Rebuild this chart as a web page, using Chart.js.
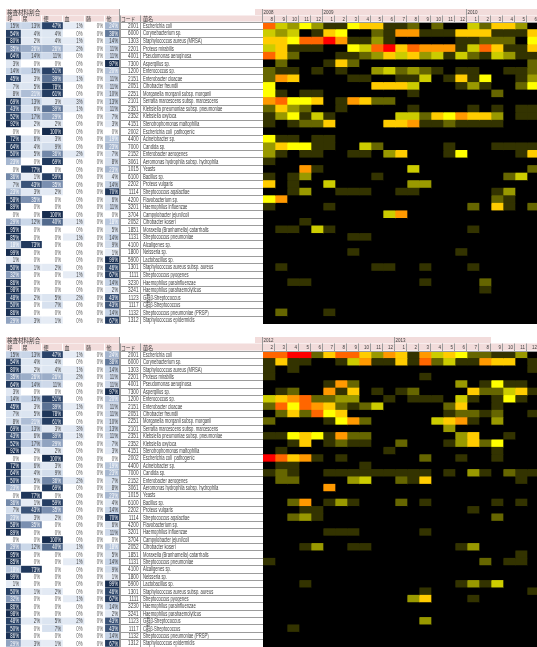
<!DOCTYPE html>
<html>
<head>
<meta charset="utf-8">
<script src="https://cdn.jsdelivr.net/npm/chart.js@4.4.0/dist/chart.umd.min.js"></script>
<style>
  html, body { margin: 0; padding: 0; background: #fff; overflow: hidden; }
  #page { position: relative; width: 537px; height: 647px; overflow: hidden; background: #fff; }
  canvas { position: absolute; }
</style>
</head>
<body>
<div id="page">
  <canvas id="tableTop" width="120" height="315" style="left:0;top:9px"></canvas>
  <canvas id="mapTop" width="419" height="315" style="left:120px;top:9px"></canvas>
  <canvas id="tableBottom" width="120" height="310" style="left:0;top:337px"></canvas>
  <canvas id="mapBottom" width="419" height="310" style="left:120px;top:337px"></canvas>
</div>
<script>
// organism list (same in both panels)
const codes = ['2001','6000','1303','2201','4001','7300','1200','2151','2051','2251',
  '2101','2351','2352','4151','2002','4400','7000','2152','3061','1015',
  '6100','2202','1114','4200','3201','3704','2052','1851','1131','4100',
  '1800','5900','1301','1111','3230','3241','1123','1117','1132','1312'];
const names = ['Escherichia coli','Corynebacterium sp.','Staphylococcus aureus (MRSA)','Proteus mirabilis',
  'Pseudomonas aeruginosa','Aspergillus sp.','Enterococcus sp.','Enterobacter cloacae','Citrobacter freundii',
  'Morganella morganii subsp. morganii','Serratia marcescens subsp. marcescens','Klebsiella pneumoniae subsp. pneumoniae',
  'Klebsiella oxytoca','Stenotrophomonas maltophilia','Escherichia coli  pathogenic','Acinetobacter sp.','Candida sp.',
  'Enterobacter aerogenes','Aeromonas hydrophila subsp. hydrophila','Yeasts','Bacillus sp.','Proteus vulgaris',
  'Streptococcus agalactiae','Flavobacterium sp.','Haemophilus influenzae','Campylobacter jejuni/coli',
  'Citrobacter koseri','Moraxella (Branhamella) catarrhalis','Streptococcus pneumoniae','Alcaligenes sp.',
  'Neisseria sp.','Lactobacillus sp.','Staphylococcus aureus subsp. aureus','Streptococcus pyogenes',
  'Haemophilus parainfluenzae','Haemophilus parahaemolyticus','G群β-Streptococcus','C群β-Streptococcus',
  'Streptococcus pneumoniae (PRSP)','Staphylococcus epidermidis'];

// 検査材料割合 (%)
const materials = ['呼','尿','便','血','髄','他'];
const resp  = [15,54,80,35,64,3,14,45,7,8, 69,43,52,92,0,72,64,50,23,0, 36,7,23,58,89,0,29,95,85,18, 99,1,50,32,86,98,48,50,86,29];
const urine = [13,4,2,26,14,0,15,3,5,21, 13,6,17,2,0,6,4,5,0,77, 1,43,3,35,0,0,12,0,0,73, 0,0,1,0,0,0,2,0,0,3];
const stool = [47,4,4,26,11,0,51,39,78,61, 3,39,29,2,100,3,9,36,69,0, 59,35,2,0,0,100,40,0,0,0, 0,0,2,0,0,0,5,7,0,1];
const blood = [1,0,1,2,0,0,0,1,0,0, 3,1,0,0,0,0,0,2,0,0, 0,0,0,0,0,0,1,0,1,0, 0,0,0,1,0,0,2,0,0,0];
const csf   = [0,0,0,0,0,0,0,0,0,0, 0,0,0,0,0,0,0,0,0,0, 0,0,0,0,0,0,0,0,0,0, 0,0,0,0,0,0,0,0,0,0];
const other = [24,38,14,11,11,97,20,11,11,10, 13,11,7,3,0,19,23,7,8,23, 4,14,70,6,11,0,18,5,14,9, 1,99,46,67,14,2,43,43,14,67];

// monthly detection level per organism (0 = none ... 9 = most)
const topYears = ['2008','2009','2010'];
const topYearStart = [0, 5, 17];
const topMonths = ['8','9','10','11','12','1','2','3','4','5','6','7','8','9','10','11','12','1','2','3','4','5','6'];
const topLevels = [
  '84353115661120200426630','43401650021771116661116','66588971131000001122205','46111005489687771486116',
  '86200011236463414214311','02000162000000000000002','21101010034232101100112','27600001100114016150013',
  '50000000066640001310025','51011000000010000002000','78556017622000000000000','26320010000010000101011',
  '13514100000442657663011','10122600006671121111000','00000000000000000000000','51101100000000000000000',
  '36551100420000010001111','31011001103600015000016','10000000000000000000000','00071000000040000000002',
  '10130000010000000000240','60100400000033000000000','00130011100110000001300','57000000000000000002100',
  '10000100000000000206102','00000000004700000000000','00010000000000000000000','01104100000000000100000',
  '00000001100000000000000','00000000000000000000000','00000001000000001000000','00000000000000000000000',
  '01000000011001000100000','00000000000000000000000','00110000000001000020000','00000000000000000010000',
  '00000000000000000000000','00000000000000000000000','02000100000000000000000','00000000000000000000000'];

const bottomYears = ['2012','2013'];
const bottomYearStart = [0, 11];
const bottomMonths = ['2','3','4','5','6','7','8','9','10','11','12','1','2','3','4','5','6','7','8','9','10','11','12'];
const bottomLevels = [
  '88992688637617465221130','16110014711618241176601','10100000000000000000001','10000000000001000000000',
  '00000172000000003015110','01200716010120000622461','46782233001011104101510','28587621240000026001000',
  '02628560000000012212001','20000157200000467103000','00000000000000030000000','11565172200000003600100',
  '00160121100200013625000','01000000001000000001000','98671010000002001001000','01100000100000000000000',
  '12100111111111010310211','02200003400216000000010','00000700000000000000000','00000000000000000000000',
  '00270131000201000001010','00011000000000000100000','00231000000000000002000','00000000000000000000000',
  '00000111000001000000000','00000000000000000000000','00013001100000001300000','00000000000000000000010',
  '10000000000000000020110','00000000000000000000000','00000000000000000000000','00010000000000001314000',
  '00000000000001000000001','00000000000036000100000','00000000000000000000000','00000000000000000000000',
  '00000000000003000000000','00100000000000000000000','00000000000000000000000','00000000000000000000000'];

const palette = ['#000000','#333300','#666600','#999900','#cccc00','#ffff00','#ffcc00','#ff9900','#ff6600','#ff0000'];
const pink = '#f2dcdb';
const lineGray = '#9c9c9c';
const colWidths = [15, 21, 21, 21.5, 20.5, 15];
const latin = '"Liberation Sans", Arial, "Noto Sans CJK JP", sans-serif';
const cjk = '"Noto Sans CJK JP", sans-serif';

function mix(a, b, t) {
  return a.map((v, i) => Math.round(v + (b[i] - v) * t));
}

// blue shading of the material share table
function blueShade(v) {
  if (v === 0) return '#ffffff';
  const stops = [[0, [232, 238, 246]], [15, [196, 210, 230]], [35, [122, 143, 176]], [45, [42, 68, 106]], [100, [22, 44, 78]]];
  for (let i = 1; i < stops.length; i++) {
    if (v <= stops[i][0]) {
      const t = (v - stops[i - 1][0]) / (stops[i][0] - stops[i - 1][0]);
      const c = mix(stops[i - 1][1], stops[i][1], t);
      return `rgb(${c[0]},${c[1]},${c[2]})`;
    }
  }
  return 'rgb(22,44,78)';
}

function drawText(ctx, s, x, y, align, sx, font, color) {
  ctx.save();
  ctx.translate(x, y);
  ctx.scale(sx, 1);
  ctx.font = font;
  ctx.fillStyle = color;
  ctx.textAlign = align;
  ctx.textBaseline = 'middle';
  ctx.fillText(s, 0, 0);
  ctx.restore();
}

function hLine(ctx, x0, x1, y, color) {
  ctx.strokeStyle = color;
  ctx.lineWidth = 1;
  ctx.beginPath();
  ctx.moveTo(x0, Math.round(y) + 0.5);
  ctx.lineTo(x1, Math.round(y) + 0.5);
  ctx.stroke();
}

function vLine(ctx, x, y0, y1, color) {
  ctx.strokeStyle = color;
  ctx.lineWidth = 1;
  ctx.beginPath();
  ctx.moveTo(Math.round(x) + 0.5, y0);
  ctx.lineTo(Math.round(x) + 0.5, y1);
  ctx.stroke();
}

// header + percentages for the left table
const tablePlugin = {
  id: 'tableFrame',
  afterDraw(chart) {
    const { ctx, chartArea: a, scales: { x, y } } = chart;
    const mid = 6.5;
    ctx.fillStyle = pink;
    ctx.fillRect(a.left, 0, a.right - a.left - 1, mid - 0.5);
    ctx.fillRect(a.left, mid, a.right - a.left - 1, a.top - mid - 0.5);
    drawText(ctx, '検査材料割合', a.left + 1, mid / 2 + 0.3, 'left', 0.85, '6.5px ' + cjk, '#404040');

    let left = 0;
    chart.data.datasets.forEach((ds, c) => {
      const x0 = x.getPixelForValue(left);
      const x1 = x.getPixelForValue(left + colWidths[c]);
      drawText(ctx, materials[c], x0 + 1.5, (mid + a.top) / 2, 'left', 0.85, '6px ' + cjk, '#404040');
      vLine(ctx, x1 - 1, mid, a.top, '#ffffff');
      ds.values.forEach((v, r) => {
        const py = y.getPixelForValue(r);
        const color = v >= 18 ? '#ffffff' : (v === 0 ? '#595959' : '#404040');
        drawText(ctx, v + '%', x1 - 2, py + 0.4, 'right', 0.62, '7px ' + latin, color);
      });
      left += colWidths[c];
    });
    vLine(ctx, a.right - 1, 0, a.bottom, lineGray);
  }
};

// black background, header rows and code / name columns for the heat map
const mapPlugin = {
  id: 'mapFrame',
  beforeDatasetsDraw(chart) {
    const { ctx, chartArea: a } = chart;
    ctx.fillStyle = '#000';
    ctx.fillRect(a.left, a.top, a.right - a.left, a.bottom - a.top);
  },
  afterDraw(chart, args, opts) {
    const { ctx, chartArea: a, scales: { x, y } } = chart;
    const mid = 6.5;
    const months = chart.data.datasets.map(d => d.label);

    // year row
    ctx.fillStyle = pink;
    const yearEnd = x.getPixelForValue(opts.yearCols);
    ctx.fillRect(a.left - 8, 0, yearEnd - a.left + 8, mid - 0.5);
    opts.years.forEach((yr, i) => {
      const px = x.getPixelForValue(opts.yearStart[i]);
      vLine(ctx, px - 1, 0, mid, lineGray);
      drawText(ctx, yr, px + 0.5, mid / 2 + 0.3, 'left', 0.75, '6px ' + latin, '#404040');
    });

    // month row with code / name header
    ctx.fillStyle = pink;
    ctx.fillRect(0, mid, a.right, a.top - mid - 0.5);
    drawText(ctx, 'コード', 1, (mid + a.top) / 2, 'left', 0.8, '6px ' + cjk, '#404040');
    drawText(ctx, '菌名', 23, (mid + a.top) / 2, 'left', 0.85, '6px ' + cjk, '#404040');
    vLine(ctx, 20, mid, a.bottom, lineGray);
    months.forEach((m, c) => {
      const x1 = x.getPixelForValue(c + 1);
      vLine(ctx, x1 - 1, mid, a.top, lineGray);
      drawText(ctx, m, x1 - 2, (mid + a.top) / 2 + 0.3, 'right', 0.75, '6px ' + latin, '#404040');
    });
    vLine(ctx, a.left - 1, 0, a.top, lineGray);
    hLine(ctx, 0, a.right, a.top - 0.5, lineGray);

    // code and organism name columns
    const band = y.getPixelForValue(1) - y.getPixelForValue(0);
    codes.forEach((code, r) => {
      const py = y.getPixelForValue(r);
      drawText(ctx, code, 18.5, py + 0.3, 'right', 0.72, '6.5px ' + latin, '#404040');
      drawText(ctx, names[r], 23, py + 0.3, 'left', 0.64, '6.5px ' + latin, '#404040');
      hLine(ctx, 0, a.left, py + band / 2 - 0.5, lineGray);
    });
    vLine(ctx, 0, mid, a.bottom, lineGray);
  }
};

const baseOptions = (padTop, padLeft) => ({
  indexAxis: 'y',
  responsive: false,
  animation: false,
  devicePixelRatio: 1,
  events: [],
  layout: { padding: { top: padTop, left: padLeft, right: 0, bottom: 0 } }
});

function buildTable(id, padTop) {
  const cols = [resp, urine, stool, blood, csf, other];
  const datasets = cols.map((vals, c) => ({
    label: materials[c],
    values: vals,
    data: vals.map(() => colWidths[c]),
    backgroundColor: vals.map(blueShade),
    borderColor: 'rgba(255,255,255,0.7)',
    borderWidth: 0.5,
    barPercentage: 1,
    categoryPercentage: 1
  }));
  new Chart(document.getElementById(id), {
    type: 'bar',
    data: { labels: codes, datasets },
    options: Object.assign(baseOptions(padTop, 6), {
      plugins: { legend: { display: false }, tooltip: { enabled: false } },
      scales: {
        x: { display: false, stacked: true, min: 0, max: colWidths.reduce((s, w) => s + w, 0) },
        y: { display: false, stacked: true }
      }
    }),
    plugins: [tablePlugin]
  });
}

function buildMap(id, padTop, levels, months, years, yearStart, yearCols) {
  const datasets = months.map((m, c) => ({
    label: m,
    data: levels.map(() => 1),
    backgroundColor: levels.map(row => palette[Number(row[c])]),
    borderWidth: 0,
    barPercentage: 1,
    categoryPercentage: 1
  }));
  new Chart(document.getElementById(id), {
    type: 'bar',
    data: { labels: codes, datasets },
    options: Object.assign(baseOptions(padTop, 143), {
      plugins: {
        legend: { display: false },
        tooltip: { enabled: false },
        mapFrame: { years, yearStart, yearCols }
      },
      scales: {
        x: { display: false, stacked: true, min: 0, max: months.length },
        y: { display: false, stacked: true }
      }
    }),
    plugins: [mapPlugin]
  });
}

buildTable('tableTop', 13);
buildMap('mapTop', 13, topLevels, topMonths, topYears, topYearStart, 23);
buildTable('tableBottom', 14);
buildMap('mapBottom', 14, bottomLevels, bottomMonths, bottomYears, bottomYearStart, 19);
</script>
</body>
</html>
